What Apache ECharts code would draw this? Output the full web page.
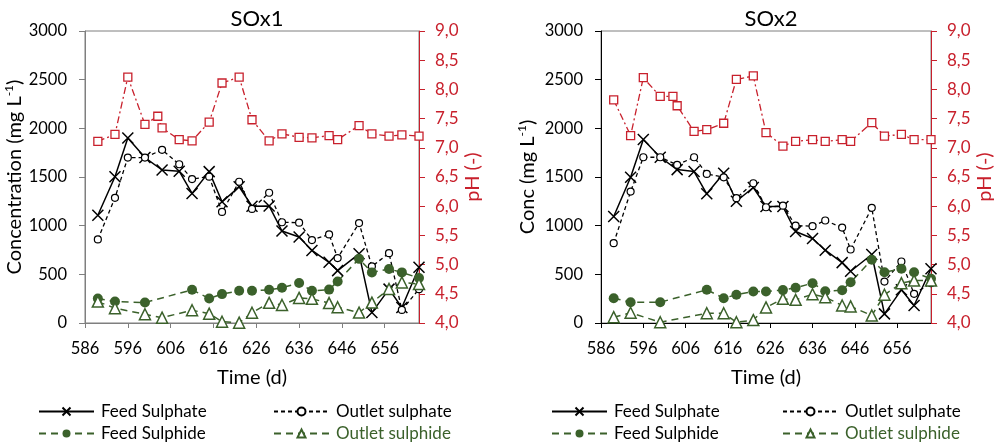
<!DOCTYPE html>
<html>
<head>
<meta charset="utf-8">
<script src="https://cdn.jsdelivr.net/npm/echarts@6/dist/echarts.min.js"></script>
<style>
  html, body { margin: 0; padding: 0; background: #fff; }
  #chart { width: 1004px; height: 443px; }
</style>
</head>
<body>
<div id="chart"></div>
<script>
// sampling days (d), shared by both reactors; null = no sample that day
var days = [589, 593, 596, 600, 603, 604, 608, 611, 615, 618, 622, 625, 629, 632, 636, 639, 643, 645, 650, 653, 657, 660, 664];

// SOx1
var feedSulphate1 = [1107, 1503, 1900, 1700, null, 1572, 1560, 1331, 1555, 1245, 1400, 1200, 1203, 945, 883, 745, 624, 538, 711, 107, 348, 159, 572];
var outletSulphate1 = [859, 1286, 1700, 1700, null, 1779, 1631, 1479, 1503, 1141, 1451, 1172, 1338, 1035, 1031, 852, 910, 667, 1027, 582, 717, 134, 348];
var feedSulphide1 = [251, 220, null, 210, null, null, null, 341, 251, 297, 331, 331, 341, 362, 411, 331, 343, 427, 659, 520, 555, 520, 462];
var outletSulphide1 = [220, 152, null, 90, null, 55, null, 131, 96, 13, 3, 105, 207, 185, 258, 248, 205, 162, 107, 210, 349, 417, 400];
var pH1 = [7.11, 7.23, 8.21, 7.40, 7.54, 7.34, 7.14, 7.12, 7.44, 8.11, 8.21, 7.48, 7.12, 7.24, 7.18, 7.17, 7.21, 7.14, 7.38, 7.24, 7.20, 7.22, 7.20];

// SOx2
var feedSulphate2 = [1094, 1497, 1885, 1703, null, 1576, 1556, 1327, 1539, 1251, 1392, 1196, 1196, 940, 868, 748, 620, 532, 704, 94, 341, 180, 557];
var outletSulphate2 = [820, 1350, 1703, 1703, null, 1625, 1703, 1532, 1497, 1282, 1436, 1189, 1205, 1000, 995, 1053, 980, 755, 1183, 426, 632, 300, 409];
var feedSulphide2 = [255, 214, null, 214, null, null, null, 341, 255, 290, 324, 324, 338, 362, 409, 327, 337, 419, 649, 522, 557, 522, 454];
var outletSulphide2 = [60, 105, null, 8, null, null, null, 100, 100, 8, 30, 160, 248, 238, 295, 265, 180, 170, 77, 290, 409, 436, 436];
var pH2 = [7.82, 7.21, 8.20, 7.88, 7.88, 7.72, 7.28, 7.31, 7.42, 8.17, 8.23, 7.26, 7.03, 7.11, 7.14, 7.11, 7.14, 7.11, 7.43, 7.20, 7.23, 7.14, 7.14];

var titles = ["SOx1", "SOx2"];
var concNames = ["Concentration (mg L", "Conc (mg L"];

var FONT = "Lato";
var RED = "#C8202C";
var GREEN = "#3B612B";
var CROSS = "path://M0 0L10 10M10 0L0 10";

function pairs(vals) {
  return days.map(function (d, i) {
    return [d, vals[i]];
  });
}

var myChart = echarts.init(document.getElementById("chart"));

var grids = [
  { left: 85, top: 31, width: 334, height: 292 },
  { left: 601, top: 31, width: 330, height: 292 },
];

var xAxes = [];
var yAxes = [];
var series = [];
var titleList = [];
var legends = [];

[0, 1].forEach(function (g) {
  var axisCol = g === 0 ? "#7F7F7F" : "#000";
  grids[g].show = true;
  grids[g].borderColor = "#7F7F7F";
  grids[g].borderWidth = 1;

  titleList.push({
    text: titles[g],
    left: grids[g].left + grids[g].width / 2,
    top: 3,
    textAlign: "center",
    textStyle: { fontFamily: FONT, fontSize: 22, fontWeight: "normal", color: "#000" },
  });

  xAxes.push({
    type: "value",
    gridIndex: g,
    min: 586,
    max: 664,
    interval: 10,
    name: "Time (d)",
    nameLocation: "middle",
    nameGap: 45,
    nameTextStyle: { fontFamily: FONT, fontSize: 20, color: "#000" },
    axisLine: { lineStyle: { color: axisCol, width: 1 } },
    axisTick: { length: 5, lineStyle: { color: axisCol } },
    axisLabel: { fontFamily: FONT, fontSize: 16.5, color: "#000", margin: 17, showMaxLabel: false },
    splitLine: { show: false },
  });

  yAxes.push({
    type: "value",
    gridIndex: g,
    min: 0,
    max: 3000,
    interval: 500,
    name: "{a|" + concNames[g] + "}{s|-1}{a|)}",
    nameLocation: "middle",
    nameGap: g === 0 ? 57 : 61,
    nameTextStyle: {
      rich: {
        a: { fontFamily: FONT, fontSize: 20, color: "#000", lineHeight: 24 },
        s: { fontFamily: FONT, fontSize: 12, color: "#000", lineHeight: 24, verticalAlign: "top" },
      },
    },
    axisLine: { show: true, lineStyle: { color: axisCol, width: 1 } },
    axisTick: { show: true, length: 6, lineStyle: { color: axisCol } },
    axisLabel: {
      fontFamily: FONT,
      fontSize: 16.5,
      color: "#000",
      margin: 18,
      formatter: function (v) {
        return String(v);
      },
    },
    splitLine: { show: false },
  });

  yAxes.push({
    type: "value",
    gridIndex: g,
    position: "right",
    min: 4,
    max: 9,
    interval: 0.5,
    name: "pH (-)",
    nameLocation: "middle",
    nameGap: 44,
    nameTextStyle: { fontFamily: FONT, fontSize: 20, color: RED },
    axisLine: { show: true, lineStyle: { color: RED, width: 1 } },
    axisTick: { show: true, length: 6, lineStyle: { color: RED } },
    axisLabel: {
      fontFamily: FONT,
      fontSize: 17,
      color: RED,
      margin: 16,
      formatter: function (v) {
        return v.toFixed(1).replace(".", ",");
      },
    },
    splitLine: { show: false },
  });
});

var sets = [
  [feedSulphate1, outletSulphate1, feedSulphide1, outletSulphide1, pH1],
  [feedSulphate2, outletSulphate2, feedSulphide2, outletSulphide2, pH2],
];

sets.forEach(function (s, g) {
  series.push({
    name: "Feed Sulphate",
    type: "line",
    xAxisIndex: g,
    yAxisIndex: g * 2,
    data: pairs(s[0]),
    connectNulls: true,
    symbol: CROSS,
    symbolSize: 11,
    lineStyle: { color: "#000", width: 1.5 },
    itemStyle: { color: "#000", borderColor: "#000", borderWidth: 1.5 },
  });
  series.push({
    name: "Outlet sulphate",
    type: "line",
    xAxisIndex: g,
    yAxisIndex: g * 2,
    data: pairs(s[1]),
    connectNulls: true,
    symbol: "circle",
    symbolSize: 7,
    lineStyle: { color: "#000", width: 1.3, type: [4, 3] },
    itemStyle: { color: "#fff", borderColor: "#000", borderWidth: 1.2 },
  });
  series.push({
    name: "Feed Sulphide",
    type: "line",
    xAxisIndex: g,
    yAxisIndex: g * 2,
    data: pairs(s[2]),
    connectNulls: true,
    symbol: "circle",
    symbolSize: 10,
    lineStyle: { color: GREEN, width: 1.5, type: [7, 5] },
    itemStyle: { color: GREEN },
  });
  series.push({
    name: "Outlet sulphide",
    type: "line",
    xAxisIndex: g,
    yAxisIndex: g * 2,
    data: pairs(s[3]),
    connectNulls: true,
    symbol: "triangle",
    symbolSize: 11,
    lineStyle: { color: GREEN, width: 1.5, type: [7, 5] },
    itemStyle: { color: "#fff", borderColor: GREEN, borderWidth: 1.5 },
  });
  series.push({
    name: "pH",
    type: "line",
    xAxisIndex: g,
    yAxisIndex: g * 2 + 1,
    data: pairs(s[4]),
    connectNulls: true,
    symbol: "rect",
    symbolSize: 8,
    lineStyle: { color: RED, width: 1.3, type: [7, 3, 2, 3] },
    itemStyle: { color: "#fff", borderColor: RED, borderWidth: 1.3 },
  });
});

// legend rows under each chart
var legendCols = [
  [38, 273],
  [551, 782],
];
var legendItems = [
  ["Feed Sulphate", 0, 0, "#000"],
  ["Outlet sulphate", 1, 0, "#000"],
  ["Feed Sulphide", 0, 1, "#000"],
  ["Outlet sulphide", 1, 1, GREEN],
];
legendCols.forEach(function (cols) {
  legendItems.forEach(function (it) {
    legends.push({
      left: cols[it[1]],
      top: 403 + it[2] * 22,
      padding: 0,
      itemWidth: 55,
      itemHeight: 10,
      itemGap: 0,
      selectedMode: false,
      data: [{ name: it[0], textStyle: { color: it[3] } }],
      textStyle: { fontFamily: FONT, fontSize: 17, color: "#000", padding: [0, 0, 0, 2] },
    });
  });
});

var option = {
  animation: false,
  backgroundColor: "#fff",
  title: titleList,
  grid: grids,
  xAxis: xAxes,
  yAxis: yAxes,
  legend: legends,
  series: series,
};

option && myChart.setOption(option);
</script>
</body>
</html>
